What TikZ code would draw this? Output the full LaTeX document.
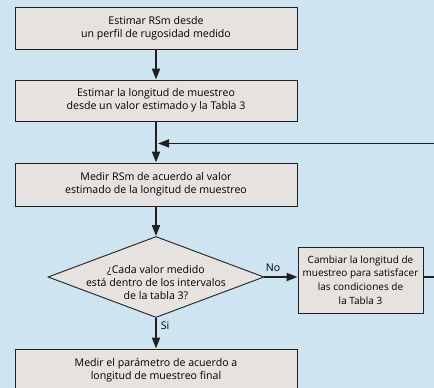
\documentclass[tikz,border=0pt]{standalone}
\usepackage{fontspec}
\setmainfont{Open Sans}
\usepackage{xcolor}
\usetikzlibrary{arrows.meta, positioning, shapes.geometric, calc}
\definecolor{bgblue}{RGB}{206,228,241}
\definecolor{boxfill}{RGB}{230,226,223}
\definecolor{linegray}{RGB}{35,31,32}

\begin{document}
\begin{tikzpicture}[x=1pt, y=-1pt,
    font=\fontsize{10.6}{12.6}\selectfont,
    box/.style={draw=linegray, line width=0.9pt, fill=boxfill, minimum width=282pt, align=center, inner sep=0pt},
    arrow/.style={-{Triangle[length=11pt, width=8pt]}, line width=1.8pt, linegray}
  ]

    % Background
    \fill[bgblue] (0,0) rectangle (434,388);
    \clip (0,0) rectangle (434,388);

    % Stage 1: Estimate RSm
    \node[box, minimum height=42pt] (est) at (156, 28) {
      Estimar RSm desde\\
      un perfil de rugosidad medido
    };

    % Stage 2: Sampling length
    \node[box, minimum height=41pt] (lon) at (156, 100.5) {
      Estimar la longitud de muestreo\\
      desde un valor estimado y la Tabla 3
    };

    % Stage 3: Measure RSm
    \node[box, minimum height=43pt] (med) at (156, 184.5) {
      Medir RSm de acuerdo al valor\\
      estimado de la longitud de muestreo
    };

    % Stage 4: Decision
    \node[draw=linegray, line width=0.9pt, fill=boxfill, diamond, minimum width=216pt, minimum height=81pt, inner sep=0pt] (dec) at (156, 277) {};
    \node[align=center] (dectext) at (156, 282.5) {
      ¿Cada valor medido\\
      está dentro de los intervalos\\
      de la tabla 3?
    };

    % Stage 5: Change sampling length
    \node[box, minimum width=125pt, minimum height=66pt, font=\fontsize{10}{13.6}\selectfont] (cam) at (360.5, 280) {
      Cambiar la longitud de\\
      muestreo para satisfacer\\
      las condiciones de\\
      la Tabla 3
    };

    % Stage 6: Final measurement
    \node[box, minimum height=43pt] (fin) at (156, 370.5) {
      Medir el parámetro de acuerdo a\\
      longitud de muestreo final
    };

    % Arrows
    \draw[arrow] (est) -- (lon);
    \draw[arrow] (lon) -- (med);
    \draw[arrow] (med) -- (dec);
    \draw[arrow] (dec.east) -- (dec.east -| cam.west);
    \draw[arrow] (dec) -- (fin);

    % Loop back
    \coordinate (join) at ($(lon.south)+(2,22)$);
    \draw[arrow] (cam.east |- dec.east) -- ++(30,0) |- (join);

    % Branch labels
    \node (no) at (273, 268) {No};
    \node (si) at (165, 326) {Si};

\end{tikzpicture}
\end{document}
